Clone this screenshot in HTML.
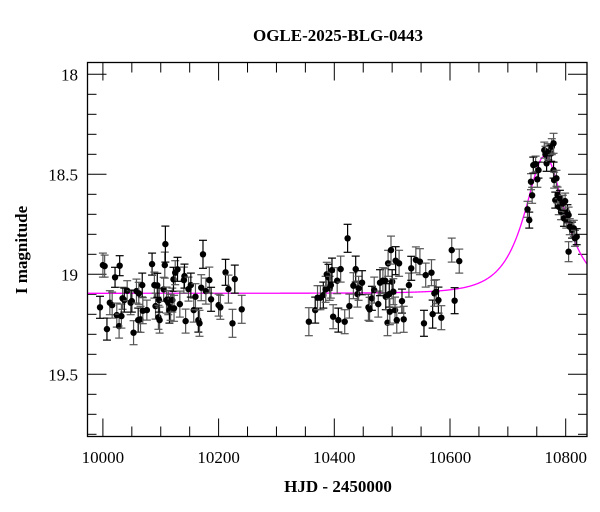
<!DOCTYPE html>
<html><head><meta charset="utf-8"><style>
html,body{margin:0;padding:0;background:#fff;}
svg{display:block;font-family:"Liberation Serif",serif;}
</style></head><body>
<svg id="chart" width="600" height="512" viewBox="0 0 600 512" xmlns="http://www.w3.org/2000/svg">
<text x="338" y="41" text-anchor="middle" font-size="17" font-weight="bold">OGLE-2025-BLG-0443</text>
<text transform="translate(27,250) rotate(-90)" text-anchor="middle" font-size="17" font-weight="bold">I magnitude</text>
<text x="338" y="492" text-anchor="middle" font-size="17" font-weight="bold">HJD - 2450000</text>
<g id="ticks"></g>
<g id="model"></g>
<g id="pts"></g>
<rect x="87.5" y="62.5" width="499.5" height="374" fill="none" stroke="#000" stroke-width="1.3"/>
</svg>
<script>
const hjd = [9995,10000,10003,10007,10012,10016,10021,10024,10028,10029,10032,10034,10037,10042,10048,10050,10053,10058,10061,10062,10065,10068,10069,10076,10085,10089,10091,10094,10096,10098,10097,10105,10107,10108,10110,10113,10115,10117,10120,10122,10123,10125,10129,10133,10140,10141,10143,10148,10152,10157,10160,10165,10167,10170,10173,10178,10184,10187,10200,10203,10212,10217,10224,10228,10240,
10356,10367,10371,10376,10381,10385,10387,10390,10392,10394,10396,10398,10405,10407,10411,10418,10423,10426,10433,10437,10440,10442,10448,10459,10461,10465,10469,10476,10479,10484,10488,10489,10492,10493,10495,10496,10498,10500,10502,10505,10506,10508,10512,10517,10520,10529,10533,10541,10548,10555,10558,10568,10570,10573,10576,10580,10585,10603,10608,10616,
10734,10737,10740,10742,10744,10748,10751,10753,10763,10765,10767,10770,10772,10775,10776,10779,10779,10780,10784,10782,10786,10788,10790,10792,10795,10797,10799,10801,10803,10805,10807,10811,10814,10816,10819,10805];
const mag = [19.165,18.954,18.959,19.274,19.142,19.154,19.015,19.204,19.259,18.957,19.209,19.12,19.129,19.082,19.142,19.134,19.292,19.084,19.229,19.095,19.225,19.054,19.182,19.179,18.949,19.054,19.159,19.055,19.215,19.229,19.129,19.075,18.954,18.849,19.129,19.142,19.179,19.165,19.129,19.025,19.17,18.992,18.975,19.149,19.029,19.009,19.234,19.074,19.054,19.179,19.112,19.229,19.245,19.067,18.9,19.084,19.029,19.125,19.154,19.165,18.99,19.074,19.245,19.024,19.175,
19.237,19.179,19.117,19.117,19.104,19.075,19.0,19.015,19.07,19.054,18.979,19.212,19.032,19.229,18.974,19.237,18.82,19.159,19.057,18.974,19.099,19.07,19.042,19.165,19.175,19.12,19.079,19.149,19.042,19.032,19.032,19.112,19.242,18.945,19.099,19.187,18.879,19.037,19.087,19.179,18.932,19.229,18.945,19.134,19.225,19.054,18.97,18.928,18.937,19.245,19.004,18.992,19.199,19.095,19.087,19.129,19.217,18.879,19.132,18.934,
18.675,18.729,18.537,18.605,18.454,18.449,18.525,18.479,18.379,18.4,18.445,18.387,18.395,18.395,18.362,18.345,18.479,18.529,18.52,18.629,18.604,18.662,18.62,18.687,18.645,18.72,18.634,18.729,18.692,18.704,18.762,18.779,18.77,18.82,18.812,18.887];
const err = [0.055,0.06,0.055,0.055,0.06,0.065,0.05,0.06,0.06,0.05,0.06,0.055,0.06,0.05,0.06,0.055,0.06,0.06,0.06,0.055,0.065,0.06,0.065,0.05,0.055,0.065,0.065,0.06,0.06,0.065,0.06,0.06,0.065,0.09,0.065,0.06,0.065,0.065,0.06,0.06,0.065,0.06,0.06,0.065,0.065,0.06,0.06,0.06,0.06,0.06,0.065,0.06,0.065,0.065,0.07,0.065,0.065,0.06,0.055,0.06,0.065,0.07,0.07,0.07,0.07,
0.07,0.065,0.06,0.06,0.065,0.065,0.06,0.065,0.06,0.065,0.06,0.06,0.065,0.06,0.065,0.06,0.07,0.06,0.065,0.065,0.065,0.06,0.06,0.065,0.06,0.06,0.065,0.065,0.065,0.065,0.06,0.065,0.065,0.065,0.065,0.065,0.07,0.06,0.065,0.065,0.07,0.065,0.065,0.06,0.065,0.06,0.06,0.065,0.065,0.065,0.06,0.065,0.07,0.065,0.06,0.065,0.06,0.06,0.065,0.06,
0.04,0.04,0.04,0.04,0.04,0.04,0.04,0.04,0.04,0.04,0.04,0.04,0.04,0.04,0.04,0.05,0.04,0.04,0.04,0.04,0.04,0.04,0.04,0.04,0.04,0.04,0.04,0.04,0.04,0.04,0.04,0.04,0.04,0.04,0.04,0.05];
const xTicks = [10000,10200,10400,10600,10800];
const yTicks = [18,18.5,19,19.5];
const modelParams = [10764, 55, 0.6, 19.095]; // t0, tE, u0, baseline

const NS = "http://www.w3.org/2000/svg";
const X0 = 87.5, X1 = 587, Y0 = 62.5, Y1 = 436.5;
const tMin = 9974, tMax = 10837, mMin = 17.94, mMax = 19.81;
const xs = t => 102.9 + (t - 10000) * 0.5785;
const ys = m => 74.3 + (m - 18) * 200;
function mk(tag, attrs, parent) {
  const e = document.createElementNS(NS, tag);
  for (const k in attrs) e.setAttribute(k, attrs[k]);
  parent.appendChild(e);
  return e;
}
const tg = document.getElementById('ticks');
for (let t = 10000; t <= tMax; t += 50) {
  const major = (t % 200 === 0);
  const L = major ? 18 : 10;
  const x = xs(t);
  const a = mk('line', {x1: x, x2: x, y1: Y1, y2: Y1 - L, stroke: '#000', 'stroke-width': 1}, tg);
  
  
  const b = mk('line', {x1: x, x2: x, y1: Y0, y2: Y0 + L, stroke: '#000', 'stroke-width': 1}, tg);
  
  
}
xTicks.forEach(t => {
  const tx = mk('text', {x: xs(t), y: 463, 'text-anchor': 'middle', 'font-size': 17}, tg);
  tx.textContent = String(t);
  
  
});
for (let i = 0; i <= 18; i++) {
  const m = 18 + i * 0.1;
  const major = (i % 5 === 0);
  const L = major ? 19 : 9;
  const y = ys(m);
  const a = mk('line', {x1: X0, x2: X0 + L, y1: y, y2: y, stroke: '#000', 'stroke-width': 1}, tg);
  
  
  const b = mk('line', {x1: X1, x2: X1 - L, y1: y, y2: y, stroke: '#000', 'stroke-width': 1}, tg);
  
  
}
yTicks.forEach(m => {
  const tx = mk('text', {x: 78, y: ys(m) + 6, 'text-anchor': 'end', 'font-size': 17}, tg);
  tx.textContent = String(m);
  
  
});
// model
const [t0, tE, u0, base] = modelParams;
let d = '';
for (let t = tMin; t <= tMax; t += 1) {
  const tau = (t - t0) / tE;
  const u = Math.sqrt(u0 * u0 + tau * tau);
  const A = (u * u + 2) / (u * Math.sqrt(u * u + 4));
  const m = base - 2.5 * Math.log10(A);
  d += (d ? 'L' : 'M') + xs(t).toFixed(2) + ',' + ys(m).toFixed(2);
}
const mp = mk('path', {d: d, fill: 'none', stroke: '#ff00ff', 'stroke-width': 1.3}, document.getElementById('model'));


// points
const pg = document.getElementById('pts');
hjd.forEach((t, i) => {
  const x = xs(t), y = ys(mag[i]), e = err[i] * 200;
  const col = (i % 3 === 0) ? '#000' : '#555';
  const g = mk('g', {}, pg);
  
  
  mk('line', {x1: x, x2: x, y1: y - e, y2: y + e, stroke: col, 'stroke-width': 1.2}, g);
  mk('line', {x1: x - 4, x2: x + 4, y1: y - e, y2: y - e, stroke: col, 'stroke-width': 1.2}, g);
  mk('line', {x1: x - 4, x2: x + 4, y1: y + e, y2: y + e, stroke: col, 'stroke-width': 1.2}, g);
  mk('circle', {cx: x, cy: y, r: 3.2, fill: '#000'}, g);
});
</script>
</body></html>
